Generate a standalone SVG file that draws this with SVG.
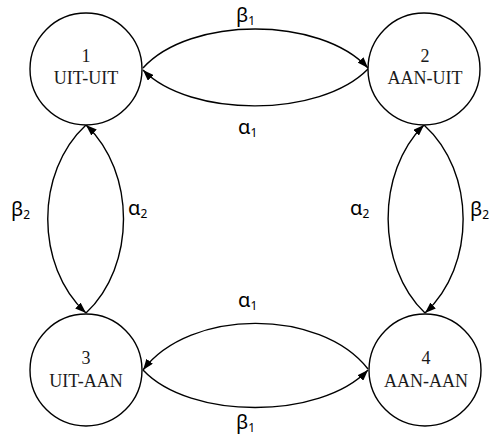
<svg xmlns="http://www.w3.org/2000/svg" width="491" height="440" viewBox="0 0 491 440">
  <style>
    .state { fill: #ffffff; stroke: #000000; stroke-width: 1.4; }
    .name { font-family: "Liberation Serif", "Times New Roman", serif; font-size: 18px; fill: #1a1a1a; text-anchor: middle; }
    .edge { fill: none; stroke: #000000; stroke-width: 1.4; marker-end: url(#head); }
    .rate { font-family: "Noto Sans", "DejaVu Sans", sans-serif; font-size: 20px; fill: #000000; }
    .sub { font-size: 12px; }
  </style>
  <defs>
    <marker id="head" markerUnits="userSpaceOnUse" markerWidth="11" markerHeight="8" refX="11" refY="4" orient="auto">
      <path d="M0,0 L11,4 L0,8 z" fill="#000000"/>
    </marker>
  </defs>

  <rect width="491" height="440" fill="#ffffff"/>

  <!-- transitions -->
  <g id="connectors">
    <!-- 1 -> 2 (beta1) and 2 -> 1 (alpha1) -->
    <path class="edge" d="M143,68 C190,16 320,16 368,68"/>
    <path class="edge" d="M368,69 C320,118 190,118 143,70"/>
    <!-- 3 -> 4 (beta1) and 4 -> 3 (alpha1) -->
    <path class="edge" d="M143,370 C190,420 320,420 368,370"/>
    <path class="edge" d="M368,369 C320,308 190,308 143,370"/>
    <!-- 1 -> 3 (beta2) and 3 -> 1 (alpha2) -->
    <path class="edge" d="M86,125 C35,172 35,266 86,313"/>
    <path class="edge" d="M86,313 C136,266 136,172 86,125"/>
    <!-- 2 -> 4 (beta2) and 4 -> 2 (alpha2) -->
    <path class="edge" d="M424,125 C476,172 476,266 425,313"/>
    <path class="edge" d="M425,313 C376,266 376,172 424,125"/>

    <text class="rate" x="236" y="22">β<tspan class="sub" dy="3">1</tspan></text>
    <text class="rate" x="238" y="134">α<tspan class="sub" dy="3">1</tspan></text>
    <text class="rate" x="238" y="307">α<tspan class="sub" dy="3">1</tspan></text>
    <text class="rate" x="236" y="429">β<tspan class="sub" dy="3">1</tspan></text>
    <text class="rate" x="11" y="216">β<tspan class="sub" dy="3">2</tspan></text>
    <text class="rate" x="128" y="215">α<tspan class="sub" dy="3">2</tspan></text>
    <text class="rate" x="350" y="215">α<tspan class="sub" dy="3">2</tspan></text>
    <text class="rate" x="470" y="216">β<tspan class="sub" dy="3">2</tspan></text>
  </g>

  <!-- states -->
  <g id="state1">
    <circle class="state" cx="86" cy="69" r="56"/>
    <text class="name" x="86" y="62">1</text>
    <text class="name" x="86" y="84">UIT-UIT</text>
  </g>
  <g id="state2">
    <circle class="state" cx="424" cy="69" r="56"/>
    <text class="name" x="425" y="62">2</text>
    <text class="name" x="425" y="84">AAN-UIT</text>
  </g>
  <g id="state3">
    <circle class="state" cx="86" cy="370" r="56"/>
    <text class="name" x="86" y="364">3</text>
    <text class="name" x="86" y="387">UIT-AAN</text>
  </g>
  <g id="state4">
    <circle class="state" cx="425" cy="370" r="56"/>
    <text class="name" x="426" y="364">4</text>
    <text class="name" x="426" y="387">AAN-AAN</text>
  </g>
</svg>
